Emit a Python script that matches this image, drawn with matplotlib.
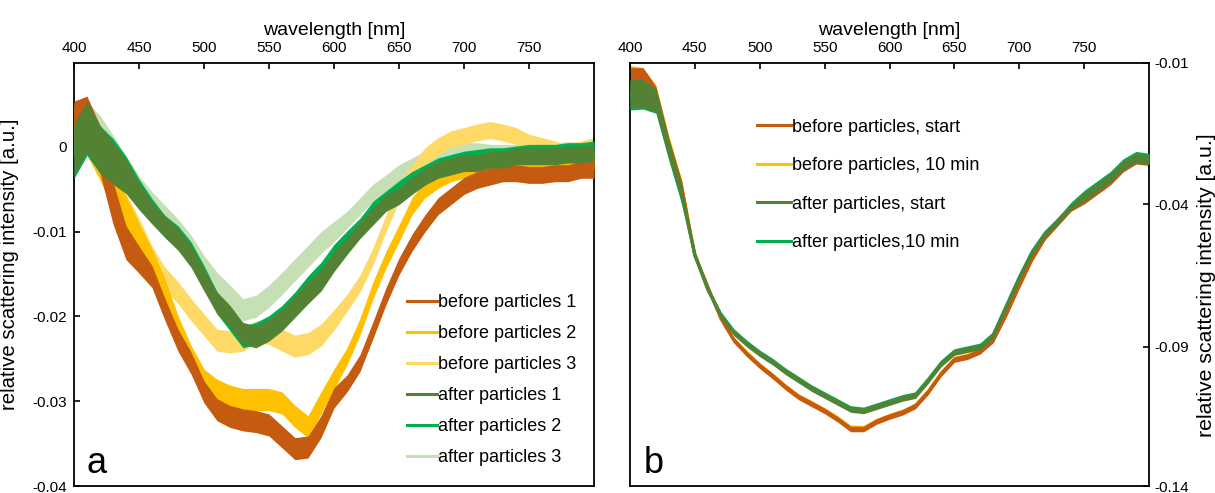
import numpy as np
import matplotlib
matplotlib.use("Agg")
import matplotlib.pyplot as plt

plt.rcParams['font.family'] = ['Liberation Sans', 'DejaVu Sans']
plt.rcParams['axes.unicode_minus'] = False

# wavelength grid (nm), values read every 10 nm
wl = np.arange(400, 801, 10)

# ---- panel a : relative scattering intensity (a.u.)
before1 = [0.0024, 0.0030, -0.0003, -0.0066, -0.0113, -0.0133, -0.0153, -0.0192, -0.0228, -0.0255,
           -0.0289, -0.0310, -0.0318, -0.0322, -0.0324, -0.0328, -0.0342, -0.0356, -0.0354, -0.0330,
           -0.0296, -0.0279, -0.0255, -0.0216, -0.0176, -0.0141, -0.0113, -0.0090, -0.0070, -0.0058,
           -0.0046, -0.0039, -0.0035, -0.0031, -0.0031, -0.0033, -0.0033, -0.0031, -0.0031, -0.0027,
           -0.0027]
before2 = [0.0020, 0.0020, -0.0011, -0.0050, -0.0078, -0.0106, -0.0133, -0.0169, -0.0212, -0.0247,
           -0.0275, -0.0287, -0.0294, -0.0298, -0.0298, -0.0298, -0.0302, -0.0318, -0.0330, -0.0302,
           -0.0274, -0.0247, -0.0212, -0.0169, -0.0133, -0.0102, -0.0070, -0.0050, -0.0039, -0.0031,
           -0.0027, -0.0022, -0.0020, -0.0019, -0.0019, -0.0019, -0.0018, -0.0018, -0.0017, -0.0016,
           -0.0016]
before3 = [0.0020, 0.0024, -0.0003, -0.0045, -0.0075, -0.0100, -0.0130, -0.0155, -0.0172, -0.0192,
           -0.0210, -0.0228, -0.0230, -0.0228, -0.0218, -0.0220, -0.0228, -0.0235, -0.0232, -0.0222,
           -0.0204, -0.0184, -0.0161, -0.0129, -0.0090, -0.0054, -0.0031, -0.0011, 0.0001, 0.0009,
           0.0013, 0.0017, 0.0020, 0.0017, 0.0013, 0.0005, 0.0001, -0.0003, -0.0007, -0.0003,
           0.0001]
after1 = [-0.0003, 0.0024, -0.0003, -0.0019, -0.0035, -0.0058, -0.0078, -0.0094, -0.0109, -0.0129,
          -0.0157, -0.0184, -0.0200, -0.0220, -0.0224, -0.0216, -0.0204, -0.0188, -0.0172, -0.0157,
          -0.0135, -0.0117, -0.0098, -0.0082, -0.0066, -0.0058, -0.0046, -0.0035, -0.0027, -0.0023,
          -0.0019, -0.0019, -0.0015, -0.0015, -0.0011, -0.0011, -0.0011, -0.0011, -0.0009, -0.0009,
          -0.0007]
after2 = [-0.0007, 0.0020, -0.0003, -0.0015, -0.0031, -0.0054, -0.0074, -0.0094, -0.0106, -0.0125,
          -0.0153, -0.0184, -0.0204, -0.0224, -0.0220, -0.0212, -0.0200, -0.0184, -0.0165, -0.0149,
          -0.0127, -0.0109, -0.0094, -0.0074, -0.0062, -0.0050, -0.0039, -0.0031, -0.0023, -0.0019,
          -0.0015, -0.0013, -0.0011, -0.0011, -0.0009, -0.0007, -0.0007, -0.0007, -0.0005, -0.0005,
          -0.0003]
after3 = [0.0001, 0.0024, 0.0009, -0.0011, -0.0031, -0.0050, -0.0066, -0.0082, -0.0098, -0.0117,
          -0.0141, -0.0161, -0.0176, -0.0192, -0.0188, -0.0176, -0.0161, -0.0145, -0.0129, -0.0113,
          -0.0100, -0.0086, -0.0070, -0.0054, -0.0043, -0.0031, -0.0023, -0.0015, -0.0011, -0.0007,
          -0.0005, -0.0005, -0.0007, -0.0007, -0.0007, -0.0005, -0.0005, -0.0005, -0.0004, -0.0004,
          -0.0003]
# half width of the noise band around each trace in panel a
noise_a = [0.0030, 0.0030, 0.0028, 0.0025, 0.0020, 0.0016, 0.0013, 0.0013, 0.0013, 0.0013,
           0.0013, 0.0013, 0.0013, 0.0013, 0.0013, 0.0013, 0.0013, 0.0013, 0.0013, 0.0013,
           0.0012, 0.0010, 0.0010, 0.0010, 0.0010, 0.0010, 0.0010, 0.0010, 0.0010, 0.0010,
           0.0010, 0.0010, 0.0010, 0.0010, 0.0010, 0.0010, 0.0010, 0.0010, 0.0010, 0.0010,
           0.0010]

# ---- panel b
before_start = [-0.0140, -0.0140, -0.0175, -0.0280, -0.0370, -0.0580, -0.0690, -0.0800, -0.0876, -0.0925,
                -0.0968, -0.1005, -0.1045, -0.1080, -0.1105, -0.1130, -0.1160, -0.1195, -0.1195, -0.1168,
                -0.1150, -0.1135, -0.1112, -0.1060, -0.0995, -0.0945, -0.0935, -0.0915, -0.0875, -0.0785,
                -0.0685, -0.0590, -0.0515, -0.0465, -0.0415, -0.0390, -0.0370, -0.0350, -0.0322, -0.0305,
                -0.0308]
before_10 = [-0.0135, -0.0140, -0.0172, -0.0275, -0.0368, -0.0575, -0.0692, -0.0798, -0.0874, -0.0922,
             -0.0966, -0.1003, -0.1043, -0.1078, -0.1102, -0.1128, -0.1157, -0.1190, -0.1192, -0.1166,
             -0.1148, -0.1133, -0.1110, -0.1058, -0.0992, -0.0943, -0.0932, -0.0912, -0.0872, -0.0782,
             -0.0683, -0.0588, -0.0513, -0.0463, -0.0413, -0.0388, -0.0368, -0.0348, -0.0320, -0.0303,
             -0.0306]
after_start = [-0.0165, -0.0165, -0.0180, -0.0285, -0.0380, -0.0580, -0.0700, -0.0790, -0.0850, -0.0890,
               -0.0925, -0.0955, -0.0990, -0.1020, -0.1050, -0.1075, -0.1100, -0.1125, -0.1130, -0.1115,
               -0.1100, -0.1085, -0.1075, -0.1020, -0.0960, -0.0920, -0.0910, -0.0900, -0.0860, -0.0760,
               -0.0660, -0.0570, -0.0505, -0.0460, -0.0410, -0.0385, -0.0365, -0.0345, -0.0318, -0.0302,
               -0.0306]
after_10 = [-0.0170, -0.0168, -0.0182, -0.0288, -0.0385, -0.0578, -0.0698, -0.0786, -0.0846, -0.0886,
            -0.0921, -0.0951, -0.0986, -0.1016, -0.1046, -0.1071, -0.1096, -0.1121, -0.1126, -0.1111,
            -0.1096, -0.1081, -0.1071, -0.1016, -0.0956, -0.0916, -0.0906, -0.0896, -0.0856, -0.0756,
            -0.0656, -0.0566, -0.0501, -0.0456, -0.0406, -0.0381, -0.0361, -0.0341, -0.0314, -0.0298,
            -0.0302]
noise_b = [0.0030, 0.0030, 0.0025, 0.0020, 0.0018, 0.0012, 0.0010, 0.0010, 0.0010, 0.0010,
           0.0010, 0.0010, 0.0010, 0.0010, 0.0010, 0.0010, 0.0010, 0.0010, 0.0010, 0.0010,
           0.0010, 0.0010, 0.0010, 0.0010, 0.0010, 0.0010, 0.0010, 0.0010, 0.0010, 0.0010,
           0.0010, 0.0010, 0.0010, 0.0010, 0.0010, 0.0010, 0.0010, 0.0010, 0.0010, 0.0010,
           0.0010]

labels_a = ['before particles 1', 'before particles 2', 'before particles 3',
            'after particles 1', 'after particles 2', 'after particles 3']
colors_a = ['#C55A11', '#FFC000', '#FFD966', '#548235', '#00B050', '#C5E0B4']
z_a = [4, 3, 2, 6, 5, 1]

labels_b = ['before particles, start', 'before particles, 10 min',
            'after particles, start', 'after particles,10 min']
colors_b = ['#C55A11', '#FFC000', '#548235', '#00B050']
z_b = [2, 1, 4, 3]

# right axis of panel b: tick labels are not evenly spaced in value
b_ticks = [-0.14, -0.09, -0.04, -0.01]
b_pos = [0.0, 139.0, 282.0, 423.0]


def fwd(v):
  return np.interp(v, b_ticks, b_pos)


def inv(p):
  return np.interp(p, b_pos, b_ticks)


def trace(ax, y, noise, color, label, z):
  y = np.array(y)
  n = np.array(noise)
  ax.fill_between(wl, y - n, y + n, color=color, lw=0, zorder=z)
  ax.plot(wl, y, color=color, lw=2.2, label=label, zorder=z)


fig = plt.figure(figsize=(12.15, 4.93), dpi=100)
ax1 = fig.add_axes([74/1215, 7/493, 520/1215, 423/493])
ax2 = fig.add_axes([630/1215, 7/493, 519/1215, 423/493])

for y, c, l, z in zip([before1, before2, before3, after1, after2, after3], colors_a, labels_a, z_a):
  trace(ax1, y, noise_a, c, l, z)
for y, c, l, z in zip([before_start, before_10, after_start, after_10], colors_b, labels_b, z_b):
  trace(ax2, y, noise_b, c, l, z)

ax2.set_yscale('function', functions=(fwd, inv))

for ax in (ax1, ax2):
  ax.set_xlim(400, 800)
  ax.set_xticks(np.arange(400, 751, 50))
  ax.xaxis.tick_top()
  ax.xaxis.set_label_position('top')
  ax.set_xlabel('wavelength [nm]', fontsize=14, labelpad=4)
  ax.tick_params(axis='both', direction='in', length=4, width=1.2, labelsize=11)
  ax.tick_params(axis='x', pad=6)
  for s in ax.spines.values():
    s.set_linewidth(1.3)
  ax.minorticks_off()

ax1.set_ylim(-0.04, 0.0099)
ax1.set_yticks([0, -0.01, -0.02, -0.03, -0.04])
ax1.set_yticklabels(['0', '-0.01', '-0.02', '-0.03', '-0.04'])
ax1.tick_params(axis='y', pad=5)
ax1.set_ylabel('relative scattering intensity [a.u.]', fontsize=14.7)
ax1.yaxis.set_label_coords(-0.105, 0.525)

ax2.set_ylim(-0.14, -0.01)
ax2.yaxis.tick_right()
ax2.yaxis.set_label_position('right')
ax2.set_yticks(b_ticks)
ax2.set_yticklabels(['-0.14', '-0.09', '-0.04', '-0.01'])
ax2.yaxis.set_minor_locator(matplotlib.ticker.NullLocator())
ax2.tick_params(axis='y', pad=4)
ax2.set_ylabel('relative scattering intensity [a.u.]', fontsize=15.3)
ax2.yaxis.set_label_coords(1.092, 0.475)

ax1.legend(loc='upper left', bbox_to_anchor=(0.64, 0.453), frameon=False, fontsize=13,
           handlelength=1.65, handletextpad=0.1, labelspacing=0.77, borderpad=0, borderaxespad=0)
ax2.legend(loc='upper left', bbox_to_anchor=(0.245, 0.8685), frameon=False, fontsize=13,
           handlelength=1.85, handletextpad=0.1, labelspacing=1.19, borderpad=0, borderaxespad=0)

ax1.text(0.025, 0.03, 'a', transform=ax1.transAxes, fontsize=26)
ax2.text(0.027, 0.03, 'b', transform=ax2.transAxes, fontsize=26)

fig.savefig('out.png', dpi=100)
